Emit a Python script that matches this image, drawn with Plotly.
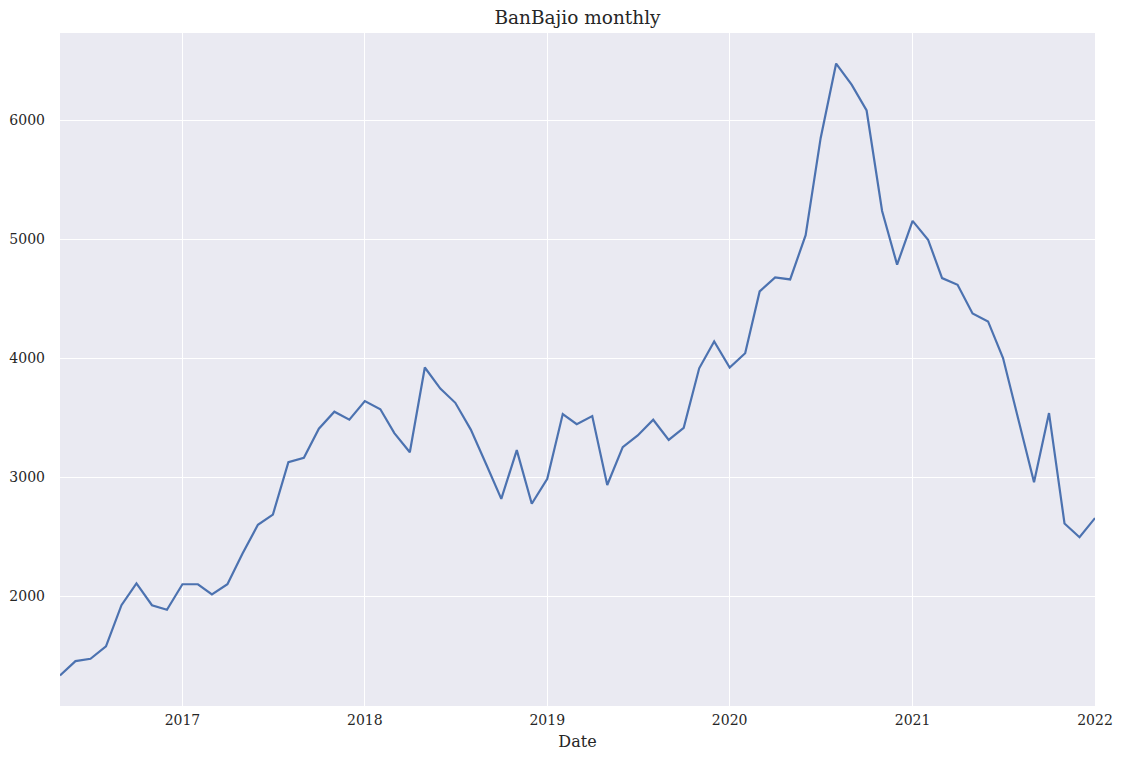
import pandas as pd
import plotly.graph_objects as go

# monthly values, May 2016 .. Jan 2022
dates = pd.date_range("2016-05-01", "2022-01-01", freq="MS")
values = [
    1335, 1455, 1475, 1579, 1925, 2109, 1925, 1887,            # 2016 May-Dec
    2101, 2101, 2015, 2101, 2357, 2601, 2687, 3127, 3164, 3408, 3551, 3484,  # 2017
    3641, 3572, 3371, 3210, 3923, 3746, 3626, 3401, 3108, 2819, 3228, 2778,  # 2018
    2988, 3532, 3446, 3514, 2935, 3254, 3352, 3484, 3315, 3416, 3916, 4141,  # 2019
    3923, 4043, 4562, 4680, 4663, 5035, 5850, 6477, 6300, 6083, 5238, 4787,  # 2020
    5155, 4997, 4674, 4618, 4377, 4310, 4002, 3472, 2958, 3540, 2612, 2496,  # 2021
    2657,                                                       # 2022 Jan
]
tick_years = ["2017", "2018", "2019", "2020", "2021", "2022"]

font_family = "DejaVu Serif"
text_color = "#262626"

fig = go.Figure()
fig.add_trace(go.Scatter(
    x=dates, y=values, mode="lines",
    line=dict(color="#4C72B0", width=2.2),
    showlegend=False,
))

vmin, vmax = min(values), max(values)
pad = (vmax - vmin) * 0.05

fig.update_layout(
    width=1127, height=759,
    margin=dict(l=52, r=40, t=25, b=61),
    paper_bgcolor="white",
    plot_bgcolor="#EAEAF2",
    font=dict(family=font_family, size=14, color=text_color),
    title=dict(text="BanBajio monthly", x=0.5, xref="paper", xanchor="center",
               y=0.987, yref="container", yanchor="middle",
               font=dict(family=font_family, size=18.5, color=text_color)),
    xaxis=dict(
        range=[dates[0], dates[-1]],
        tickvals=[pd.Timestamp(f"{y}-01-01") for y in tick_years],
        ticktext=tick_years,
        showgrid=True, gridcolor="white", gridwidth=1,
        zeroline=False, showline=False, ticks="",
        ticklabelstandoff=4, automargin=False,
        title=dict(text="Date", font=dict(size=16), standoff=8),
    ),
    yaxis=dict(
        range=[vmin - pad, vmax + pad],
        tickvals=[2000, 3000, 4000, 5000, 6000],
        showgrid=True, gridcolor="white", gridwidth=1,
        zeroline=False, showline=False, ticks="",
        ticklabelstandoff=14, automargin=False,
    ),
)

fig.write_html("out.html")
